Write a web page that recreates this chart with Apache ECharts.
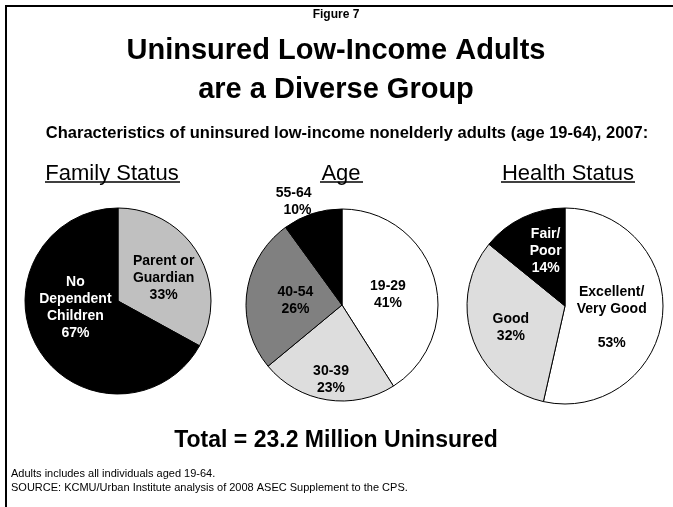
<!DOCTYPE html>
<html>
<head>
<meta charset="utf-8">
<title>Figure 7</title>
<script src="https://cdn.jsdelivr.net/npm/echarts@6/dist/echarts.min.js"></script>
<style>
  html, body { margin: 0; padding: 0; background: #fff; }
  #chart { width: 673px; height: 507px; }
</style>
</head>
<body>
<div id="chart"></div>
<script>
// data
const familyNames = ['Parent or\nGuardian', 'No\nDependent\nChildren']
const familyValues = [33, 67]
const ageNames = ['19-29', '30-39', '40-54', '55-64']
const ageValues = [41, 23, 26, 10]
const healthNames = ['Excellent/\nVery Good\n', 'Good', 'Fair/\nPoor']
const healthValues = [53, 32, 14]

// fill and text colours, slice by slice
const familyColors = ['#c0c0c0', '#000000']
const familyText = ['#000', '#fff']
const ageColors = ['#ffffff', '#dddddd', '#808080', '#000000']
const ageText = ['#000', '#000', '#000', '#000']
const healthColors = ['#ffffff', '#dddddd', '#000000']
const healthText = ['#000', '#000', '#fff']

// small nudges of the slice labels away from the default inside spot
const familyShift = [[3, 2], [0, -19]]
const ageShift = [[-3, 4], [-3, 24], [4, 2], [6, -6]]
const healthShift = [[-5, 6], [-5, 5], [3, -8]]

const FONT = '"Liberation Sans", Arial, sans-serif'

function toData(names, values, colors, text) {
    return names.map((n, i) => ({
        name: n,
        value: values[i],
        itemStyle: { color: colors[i] },
        label: { color: text[i] }
    }))
}

function pieSeries(center, radius, data, shift) {
    return {
        type: 'pie',
        center: center,
        radius: radius,
        startAngle: 90,
        clockwise: true,
        silent: true,
        avoidLabelOverlap: false,
        itemStyle: { borderColor: '#000', borderWidth: 1 },
        label: {
            show: true,
            position: 'inside',
            formatter: '{b}\n{c}%',
            fontFamily: FONT,
            fontWeight: 'bold',
            fontSize: 14,
            lineHeight: 17
        },
        labelLine: { show: false },
        labelLayout: function (params) {
            const s = shift[params.dataIndex] || [0, 0]
            return { dx: s[0], dy: s[1] }
        },
        data: data
    }
}

const ageData = toData(ageNames, ageValues, ageColors, ageText)
// the smallest age slice carries its label outside
ageData[3].label = { color: '#000', position: 'outside', align: 'center' }
ageData[3].labelLine = { show: false, length: 6, length2: 0 }

function heading(text, x, top, size, weight) {
    return {
        text: text,
        left: x,
        top: top,
        textAlign: 'center',
        padding: 0,
        textStyle: {
            fontFamily: FONT,
            fontSize: size,
            fontWeight: weight,
            color: '#000',
            lineHeight: size * 1.35
        }
    }
}

const chart = echarts.init(document.getElementById('chart'))
chart.setOption({
    animation: false,
    backgroundColor: '#fff',
    title: [
        heading('Figure 7', 336, 7, 12, 'bold'),
        heading('Uninsured Low-Income Adults\nare a Diverse Group', 336, 31, 29, 'bold'),
        heading('Characteristics of uninsured low-income nonelderly adults (age 19-64), 2007:', 347, 122, 16.5, 'bold'),
        heading('Family Status', 112, 159, 22, 'normal'),
        heading('Age', 341, 159, 22, 'normal'),
        heading('Health Status', 568, 159, 22, 'normal'),
        heading('Total = 23.2 Million Uninsured', 336, 425, 23, 'bold'),
        {
            text: 'Adults includes all individuals aged 19-64.\nSOURCE: KCMU/Urban Institute analysis of 2008 ASEC Supplement to the CPS.',
            left: 11,
            top: 467,
            padding: 0,
            textStyle: { fontFamily: FONT, fontSize: 11, fontWeight: 'normal', color: '#000', lineHeight: 14 }
        }
    ],
    graphic: [
        // frame (only top and left edges fall inside the picture)
        { type: 'line', shape: { x1: 5, y1: 6, x2: 673, y2: 6 }, style: { stroke: '#000', lineWidth: 2 } },
        { type: 'line', shape: { x1: 6, y1: 5, x2: 6, y2: 507 }, style: { stroke: '#000', lineWidth: 2 } },
        // underlines of the three pie headings
        { type: 'line', shape: { x1: 45, y1: 182, x2: 180, y2: 182 }, style: { stroke: '#000', lineWidth: 1.5 } },
        { type: 'line', shape: { x1: 320, y1: 182, x2: 363, y2: 182 }, style: { stroke: '#000', lineWidth: 1.5 } },
        { type: 'line', shape: { x1: 501, y1: 182, x2: 635, y2: 182 }, style: { stroke: '#000', lineWidth: 1.5 } }
    ],
    series: [
        pieSeries([118, 301], 93, toData(familyNames, familyValues, familyColors, familyText), familyShift),
        pieSeries([342, 305], 96, ageData, ageShift),
        pieSeries([565, 306], 98, toData(healthNames, healthValues, healthColors, healthText), healthShift)
    ]
})
</script>
</body>
</html>
